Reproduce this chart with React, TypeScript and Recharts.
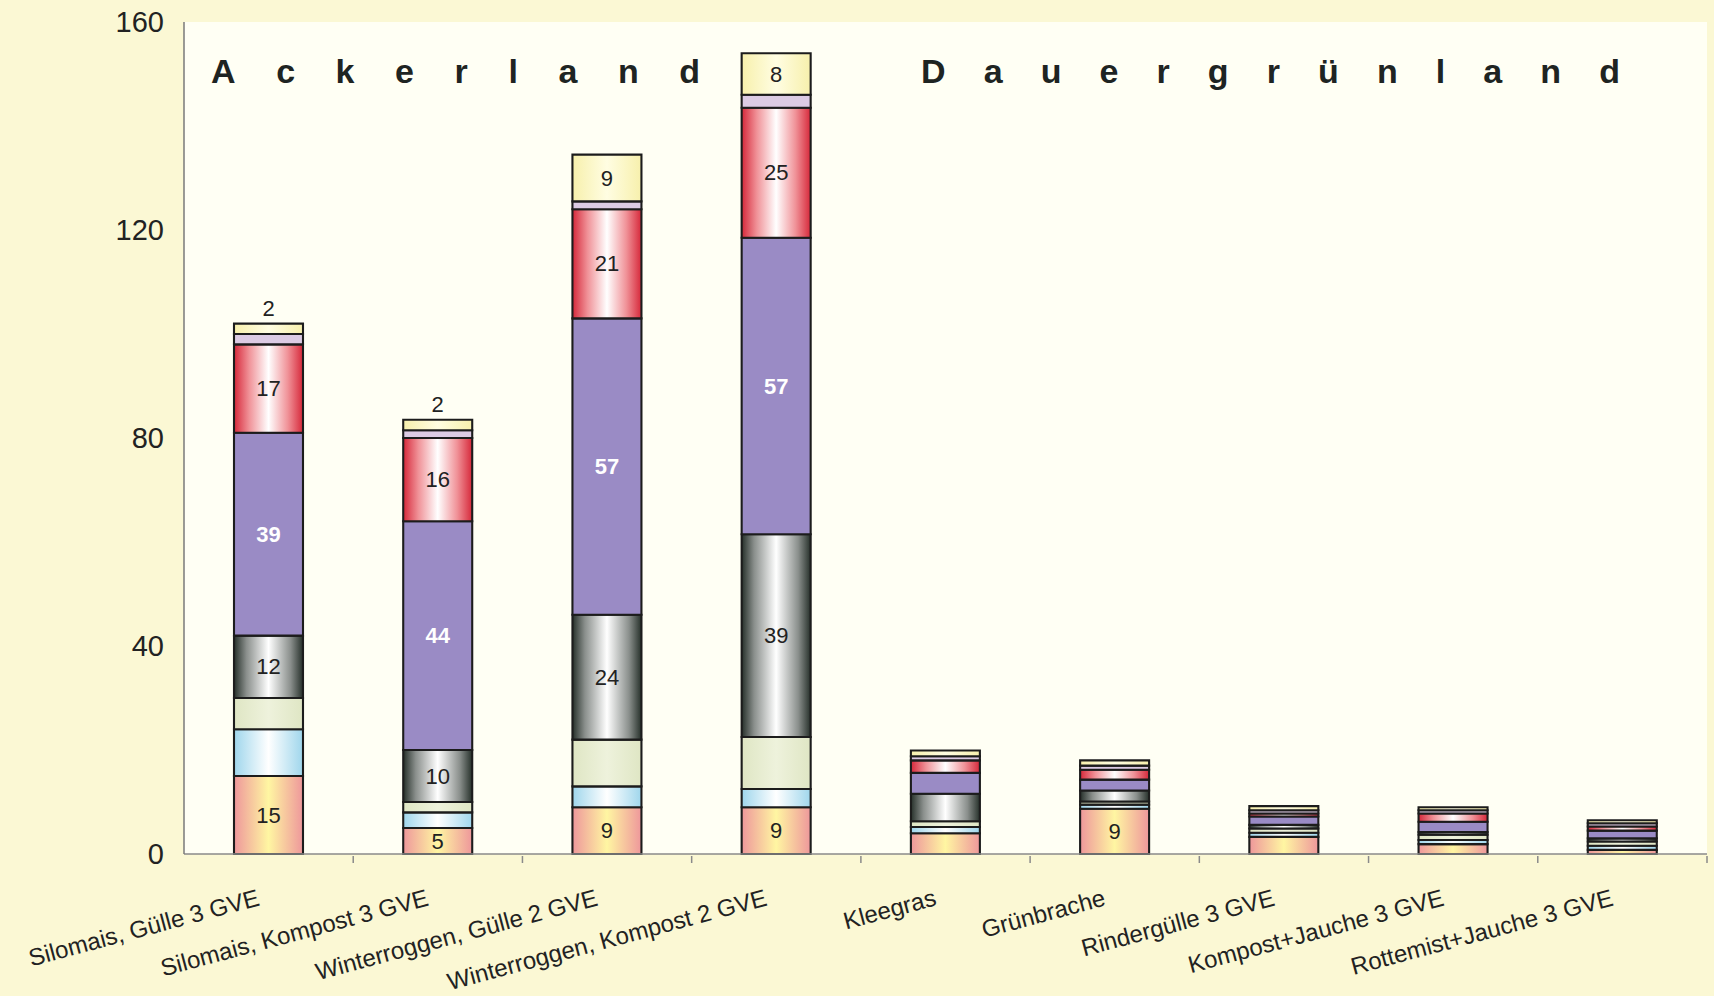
import React from 'react';
import { BarChart, Bar, XAxis, YAxis, CartesianGrid, LabelList } from 'recharts';

// categories along the x axis
const categories = [
  'Silomais, Gülle 3 GVE',
  'Silomais, Kompost 3 GVE',
  'Winterroggen, Gülle 2 GVE',
  'Winterroggen, Kompost 2 GVE',
  'Kleegras',
  'Grünbrache',
  'Rindergülle 3 GVE',
  'Kompost+Jauche 3 GVE',
  'Rottemist+Jauche 3 GVE',
];

// stacked segments, bottom to top
const orange = [15, 5, 9, 9, 4, 8.7, 3.3, 1.9, 0.8];
const lightBlue = [9, 3, 4, 3.5, 1.2, 0.8, 0.8, 0.8, 0.8];
const lightGreen = [6, 2, 9, 10, 1.1, 0.6, 0.8, 1, 0.8];
const grey = [12, 10, 24, 39, 5.3, 2.1, 0.7, 0.5, 0.6];
const purple = [39, 44, 57, 57, 4, 2.1, 1.6, 2, 1.5];
const red = [17, 16, 21, 25, 2.4, 1.9, 0.6, 1.6, 0.8];
const lavender = [2, 1.5, 1.5, 2.5, 0.8, 0.8, 0.6, 0.6, 0.6];
const yellow = [2, 2, 9, 8, 1.1, 1, 0.8, 0.6, 0.6];

// which bars carry a number in each segment
const orangeLabelled = [0, 1, 2, 3, 5];
const greyLabelled = [0, 1, 2, 3];
const purpleLabelled = [0, 1, 2, 3];
const redLabelled = [0, 1, 2, 3];
const yellowLabelled = [0, 1, 2, 3];

const yTicks = [0, 40, 80, 120, 160];

const FONT = '"Liberation Sans", Arial, sans-serif';
const BAND = (1707 - 184) / categories.length;

const series = [
  { key: 'orange', values: orange, fill: 'url(#gOrange)', labelled: orangeLabelled },
  { key: 'lightBlue', values: lightBlue, fill: 'url(#gBlue)', labelled: [] as number[] },
  { key: 'lightGreen', values: lightGreen, fill: 'url(#gGreen)', labelled: [] as number[] },
  { key: 'grey', values: grey, fill: 'url(#gGrey)', labelled: greyLabelled },
  { key: 'purple', values: purple, fill: '#9a8bc5', labelled: purpleLabelled, white: true },
  { key: 'red', values: red, fill: 'url(#gRed)', labelled: redLabelled },
  { key: 'lavender', values: lavender, fill: '#dccbe4', labelled: [] as number[] },
  { key: 'yellow', values: yellow, fill: 'url(#gYellow)', labelled: yellowLabelled },
];

const data = categories.map((name, i) => {
  const row: { [k: string]: any } = { name };
  series.forEach((s) => {
    row[s.key] = s.values[i];
    row[s.key + 'Label'] = s.labelled.includes(i) ? String(Math.round(s.values[i])) : '';
  });
  return row;
});

const makeLabel = (white?: boolean) => (props: any) => {
  const { x, y, width, height, value } = props;
  if (!value) return null;
  const small = height < 22;
  const cx = x + width / 2;
  const cy = small ? y - 15 : y + height / 2;
  return (
    <text
      x={cx}
      y={cy}
      textAnchor="middle"
      dominantBaseline="central"
      fontFamily={FONT}
      fontSize={22}
      fontWeight={white ? 'bold' : 'normal'}
      fill={white ? '#ffffff' : '#222'}
    >
      {value}
    </text>
  );
};

const XTick = (props: any) => {
  const { x, y, payload } = props;
  const tx = x - 8;
  const ty = y + 49;
  return (
    <g>
      <line x1={x + BAND / 2} x2={x + BAND / 2} y1={y} y2={y + 7} stroke="#8a8a8a" strokeWidth={1.5} />
      <text
        x={tx}
        y={ty}
        textAnchor="end"
        transform={`rotate(-15 ${tx} ${ty})`}
        fontFamily={FONT}
        fontSize={24}
        fill="#222"
      >
        {payload.value}
      </text>
    </g>
  );
};

export default function App() {
  return (
    <div style={{ position: 'absolute', left: 0, top: 0, width: 1714, height: 996, background: '#fbf8d4' }}>
      <BarChart
        width={1714}
        height={996}
        data={data}
        margin={{ top: 22, right: 7, left: 0, bottom: 0 }}
        barSize={69}
      >
        <defs>
          <linearGradient id="gOrange" x1="0" y1="0" x2="1" y2="0">
            <stop offset="0" stopColor="#ee979b" />
            <stop offset="0.5" stopColor="#fff6a2" />
            <stop offset="1" stopColor="#ee979b" />
          </linearGradient>
          <linearGradient id="gBlue" x1="0" y1="0" x2="1" y2="0">
            <stop offset="0" stopColor="#9fd6ec" />
            <stop offset="0.5" stopColor="#ffffff" />
            <stop offset="1" stopColor="#9fd6ec" />
          </linearGradient>
          <linearGradient id="gGreen" x1="0" y1="0" x2="1" y2="0">
            <stop offset="0" stopColor="#dfe6c4" />
            <stop offset="0.5" stopColor="#eef2dc" />
            <stop offset="1" stopColor="#dfe6c4" />
          </linearGradient>
          <linearGradient id="gGrey" x1="0" y1="0" x2="1" y2="0">
            <stop offset="0" stopColor="#26302a" />
            <stop offset="0.18" stopColor="#8a8f8c" />
            <stop offset="0.5" stopColor="#ffffff" />
            <stop offset="0.82" stopColor="#8a8f8c" />
            <stop offset="1" stopColor="#26302a" />
          </linearGradient>
          <linearGradient id="gRed" x1="0" y1="0" x2="1" y2="0">
            <stop offset="0" stopColor="#d6283a" />
            <stop offset="0.22" stopColor="#f09298" />
            <stop offset="0.5" stopColor="#ffffff" />
            <stop offset="0.78" stopColor="#f09298" />
            <stop offset="1" stopColor="#d6283a" />
          </linearGradient>
          <linearGradient id="gYellow" x1="0" y1="0" x2="1" y2="0">
            <stop offset="0" stopColor="#f7f0ac" />
            <stop offset="0.5" stopColor="#fffde2" />
            <stop offset="1" stopColor="#f7f0ac" />
          </linearGradient>
        </defs>
        <CartesianGrid horizontal={false} vertical={false} fill="#fffff4" />
        <XAxis
          dataKey="name"
          height={142}
          interval={0}
          tickLine={false}
          tickSize={0}
          tick={<XTick />}
          axisLine={{ stroke: '#8a8a8a', strokeWidth: 1.5 }}
        />
        <XAxis
          xAxisId="top"
          orientation="top"
          dataKey="name"
          height={0}
          tick={false}
          tickLine={false}
          axisLine={{ stroke: '#b0b0a8', strokeWidth: 1.5 }}
        />
        <YAxis
          width={184}
          domain={[0, 160]}
          ticks={yTicks}
          tickLine={false}
          tickSize={0}
          tickMargin={20}
          axisLine={{ stroke: '#7a7a7a', strokeWidth: 1.5 }}
          tick={{ fontSize: 29, fill: '#222', fontFamily: FONT }}
        />
        <YAxis
          yAxisId="right"
          orientation="right"
          width={0}
          domain={[0, 160]}
          tick={false}
          tickLine={false}
          axisLine={{ stroke: '#b0b0a8', strokeWidth: 1.5 }}
        />
        {series.map((s) => (
          <Bar
            key={s.key}
            dataKey={s.key}
            stackId="a"
            fill={s.fill}
            stroke="#1c1c1c"
            strokeWidth={2.1}
            isAnimationActive={false}
          >
            <LabelList dataKey={s.key + 'Label'} content={makeLabel(s.white)} />
          </Bar>
        ))}
        <text x={211} y={83} textLength={489} lengthAdjust="spacing" fontFamily={FONT} fontWeight="bold" fontSize={34} fill="#1e2422">
          Ackerland
        </text>
        <text x={921} y={83} textLength={699} lengthAdjust="spacing" fontFamily={FONT} fontWeight="bold" fontSize={34} fill="#1e2422">
          Dauergrünland
        </text>
      </BarChart>
    </div>
  );
}
